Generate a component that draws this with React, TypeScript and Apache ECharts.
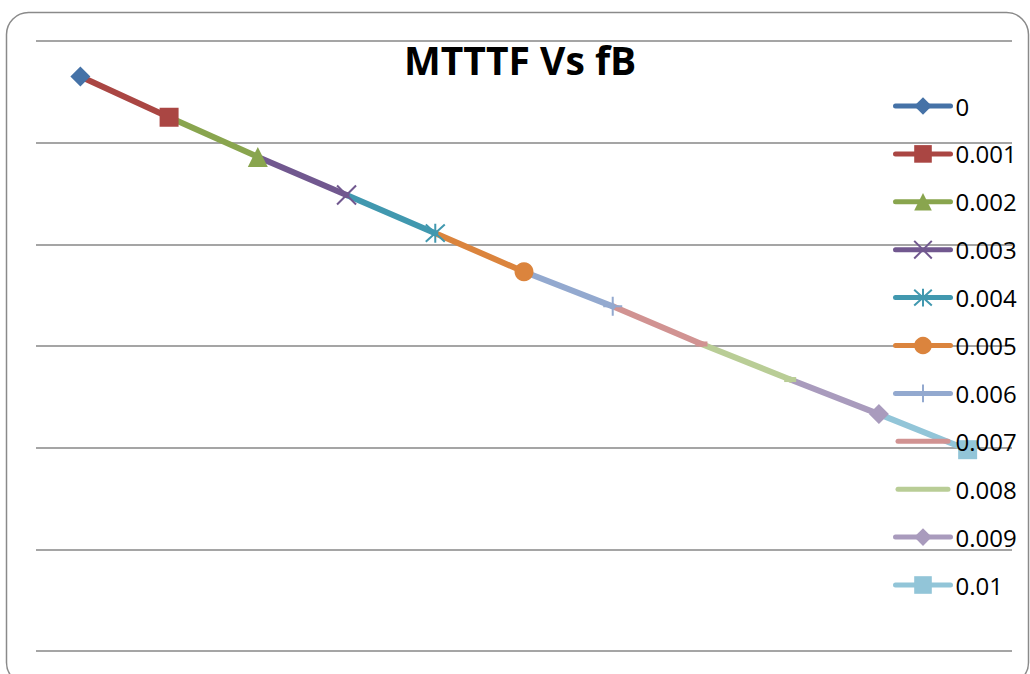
import React, { useEffect, useRef } from "react";
import * as echarts from "echarts";

const fbLevels = ["0", "0.001", "0.002", "0.003", "0.004", "0.005", "0.006", "0.007", "0.008", "0.009", "0.01"];
const mtttfValues = [5.65, 5.25, 4.86, 4.485, 4.11, 3.73, 3.39, 3.02, 2.67, 2.33, 1.98];
const seriesColors = ["#4572A7", "#AA4643", "#89A54E", "#71588F", "#4198AF", "#DB843D", "#93A9CF", "#D19392", "#B9CD96", "#A99BBD", "#92C5D8"];

const X_PATH = "path://M0,0L10,10M10,0L0,10";
const STAR_PATH = "path://M5,0L5,10M0,0.5L10,9.5M10,0.5L0,9.5";
const PLUS_PATH = "path://M5,0L5,10M0,5L10,5";
const BAR_ICON = "path://M2.5,0L52.5,0A2.5,2.5,0,0,1,52.5,5L2.5,5A2.5,2.5,0,0,1,2.5,0Z";

const markers: any[] = [
  { symbol: "diamond", size: 20, stroke: false },
  { symbol: "rect", size: 19, stroke: false },
  { symbol: "triangle", size: 20, stroke: false },
  { symbol: X_PATH, size: 19, stroke: true },
  { symbol: STAR_PATH, size: 19, stroke: true },
  { symbol: "circle", size: 19, stroke: false },
  { symbol: PLUS_PATH, size: 19, stroke: true },
  { symbol: "rect", size: [12, 5], stroke: false },
  { symbol: "rect", size: [12, 5], stroke: false },
  { symbol: "diamond", size: 20, stroke: false },
  { symbol: "rect", size: 19, stroke: false },
];

export default function App() {
  const ref = useRef<HTMLDivElement>(null);
  useEffect(() => {
    if (!ref.current) return;
    const chart = echarts.init(ref.current, null, { renderer: "svg" });
    const series = fbLevels.map((name, i) => {
      const m = markers[i];
      const data = fbLevels.map((_, j) => {
        if (j === i) return { value: mtttfValues[j] };
        if (j === i - 1) return { value: mtttfValues[j], symbol: "none" };
        return "-";
      });
      return {
        name,
        type: "line",
        data,
        z: 30 - i,
        symbol: m.symbol,
        symbolSize: m.size,
        showAllSymbol: true,
        lineStyle: { color: seriesColors[i], width: 6, cap: "round" },
        itemStyle: m.stroke
          ? { color: seriesColors[i], borderColor: seriesColors[i], borderWidth: 2 }
          : { color: seriesColors[i], borderWidth: 0 },
        emphasis: { disabled: true },
      };
    });
    const legendData = fbLevels.map((name, i) =>
      i === 7 || i === 8 ? { name, icon: BAR_ICON } : { name }
    );
    chart.setOption({
      animation: false,
      backgroundColor: "#ffffff",
      title: {
        text: "MTTTF Vs fB",
        left: 399,
        top: 35,
        textStyle: { fontFamily: "Open Sans", fontWeight: "bold", fontSize: 39, color: "#000" },
      },
      grid: { left: 36, right: 18, top: 41, bottom: 23 },
      xAxis: {
        type: "category",
        data: fbLevels,
        boundaryGap: true,
        axisLine: { show: false },
        axisTick: { show: false },
        axisLabel: { show: false },
        splitLine: { show: false },
      },
      yAxis: {
        type: "value",
        min: 0,
        max: 6,
        interval: 1,
        axisLine: { show: false },
        axisTick: { show: false },
        axisLabel: { show: false },
        splitLine: { show: true, lineStyle: { color: "#878787", width: 1.6 } },
      },
      legend: {
        orient: "vertical",
        left: 888,
        top: 89,
        z: 60,
        itemWidth: 55,
        itemHeight: 22,
        itemGap: 23.9,
        selectedMode: false,
        data: legendData,
        lineStyle: { width: 5, cap: "round" },
        textStyle: { fontFamily: "Open Sans", fontSize: 24, color: "#000" },
      },
      graphic: [
        {
          type: "rect",
          shape: { x: 6.5, y: 12.5, width: 1022, height: 672, r: 22 },
          style: { fill: "none", stroke: "#8a8a8a", lineWidth: 1.5 },
          z: -1,
          silent: true,
        },
      ],
      series,
    });
    return () => chart.dispose();
  }, []);
  return <div ref={ref} style={{ position: "fixed", left: 0, top: 0, width: 1030, height: 674 }} />;
}
